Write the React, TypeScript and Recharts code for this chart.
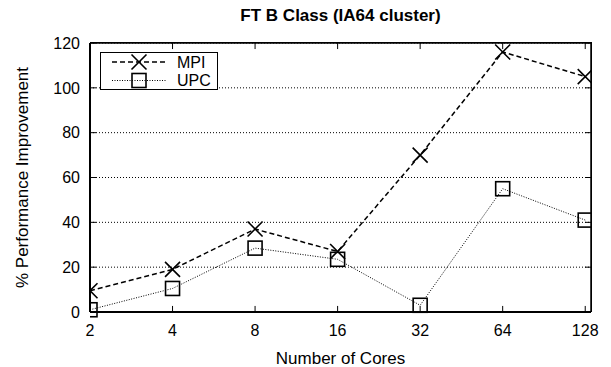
import { LineChart, Line, XAxis, YAxis, CartesianGrid, ReferenceLine } from 'recharts';

const cores = [2, 4, 8, 16, 32, 64, 128];
const mpi = [9.5, 19, 37, 27, 70, 116, 105];
const upc = [1, 10.5, 28.5, 23.5, 3, 55, 41];
const yTicks = [0, 20, 40, 60, 80, 100, 120];

// x is placed by position in the doubling series (log2 spacing)
const xIdx = cores.map((_, i) => i);
const xMax = 6.07;
const yMax = 120;

const data = cores.map((c, i) => ({ idx: i, cores: c, mpi: mpi[i], upc: upc[i] }));

const FONT = '"Liberation Sans", Arial, sans-serif';
// inward tick length, in data units (about 6px)
const TY = 2.7;
const TX = 0.073;

const Cross = (props: any) => {
  const { cx, cy } = props;
  if (cx == null || cy == null) return null;
  const s = 7.5;
  return (
    <path
      d={`M${cx - s},${cy - s}L${cx + s},${cy + s}M${cx - s},${cy + s}L${cx + s},${cy - s}`}
      stroke="#000"
      strokeWidth={1.6}
      fill="none"
    />
  );
};

const Square = (props: any) => {
  const { cx, cy } = props;
  if (cx == null || cy == null) return null;
  const s = 7;
  return <rect x={cx - s} y={cy - s} width={s * 2} height={s * 2} stroke="#000" strokeWidth={1.6} fill="none" />;
};

const LegendBox = () => (
  <svg width={118} height={38} style={{ display: 'block' }}>
    <rect x={0.5} y={0.5} width={117} height={37} fill="#fff" stroke="#000" strokeWidth={1} />
    <line x1={12} y1={10} x2={67} y2={10} stroke="#000" strokeWidth={1.5} strokeDasharray="5 3" />
    <Cross cx={39} cy={10} />
    <text x={77} y={15.5} fontSize={16} fontFamily={FONT} fill="#000">MPI</text>
    <line x1={12} y1={28.5} x2={67} y2={28.5} stroke="#000" strokeWidth={1} strokeDasharray="1 1.5" />
    <Square cx={39} cy={28.5} />
    <text x={77} y={34} fontSize={16} fontFamily={FONT} fill="#000">UPC</text>
  </svg>
);

export default function App() {
  return (
    <div style={{ position: 'absolute', left: 0, top: 0, width: 611, height: 367, background: '#fff' }}>
      <div
        style={{
          position: 'absolute',
          left: 90,
          width: 501,
          top: 6,
          textAlign: 'center',
          fontFamily: FONT,
          fontWeight: 'bold',
          fontSize: 17,
          color: '#000',
        }}
      >
        FT B Class (IA64 cluster)
      </div>
      <LineChart width={611} height={367} data={data} margin={{ top: 43, right: 20, bottom: 0, left: 0 }}>
        <CartesianGrid vertical={false} stroke="#000" strokeDasharray="1 2" strokeWidth={1} />
        <XAxis
          type="number"
          dataKey="idx"
          domain={[0, xMax]}
          allowDataOverflow
          ticks={xIdx}
          interval={0}
          tickFormatter={(v: number) => String(cores[v])}
          height={55}
          tickLine={false}
          tickSize={6}
          tickMargin={7}
          axisLine={{ stroke: '#000', strokeWidth: 2 }}
          tick={{ fill: '#000', fontSize: 16, fontFamily: FONT }}
          label={{ value: 'Number of Cores', position: 'insideBottom', offset: 3, fill: '#000', fontSize: 17, fontFamily: FONT }}
        />
        <YAxis
          domain={[0, yMax]}
          ticks={yTicks}
          interval={0}
          width={90}
          tickLine={false}
          tickSize={6}
          tickMargin={4}
          axisLine={{ stroke: '#000', strokeWidth: 2 }}
          tick={{ fill: '#000', fontSize: 16, fontFamily: FONT }}
          label={{ value: '% Performance Improvement', angle: -90, position: 'center', dx: -23, fill: '#000', fontSize: 17, fontFamily: FONT }}
        />
        <ReferenceLine y={yMax} stroke="#000" strokeWidth={1.5} />
        <ReferenceLine x={xMax} stroke="#000" strokeWidth={1.5} />
        {xIdx.map((i) => (
          <ReferenceLine key={`b${i}`} segment={[{ x: i, y: 0 }, { x: i, y: TY }]} stroke="#000" strokeWidth={1} />
        ))}
        {xIdx.map((i) => (
          <ReferenceLine key={`t${i}`} segment={[{ x: i, y: yMax }, { x: i, y: yMax - TY }]} stroke="#000" strokeWidth={1} />
        ))}
        {yTicks.map((v) => (
          <ReferenceLine key={`l${v}`} segment={[{ x: 0, y: v }, { x: TX, y: v }]} stroke="#000" strokeWidth={1} />
        ))}
        {yTicks.map((v) => (
          <ReferenceLine key={`r${v}`} segment={[{ x: xMax - TX, y: v }, { x: xMax, y: v }]} stroke="#000" strokeWidth={1} />
        ))}
        <Line
          dataKey="mpi"
          type="linear"
          stroke="#000"
          strokeWidth={1.5}
          strokeDasharray="5 3"
          dot={Cross}
          activeDot={false}
          isAnimationActive={false}
        />
        <Line
          dataKey="upc"
          type="linear"
          stroke="#000"
          strokeWidth={1}
          strokeDasharray="1 1.5"
          dot={Square}
          activeDot={false}
          isAnimationActive={false}
        />
      </LineChart>
      {/* plot frame (top and right edges) */}
      <div
        style={{
          position: 'absolute',
          left: 90,
          top: 42,
          width: 502,
          height: 270,
          boxSizing: 'border-box',
          borderTop: '1.5px solid #000',
          borderRight: '1.5px solid #000',
          pointerEvents: 'none',
        }}
      />
      <div style={{ position: 'absolute', left: 100, top: 52 }}>
        <LegendBox />
      </div>
    </div>
  );
}
